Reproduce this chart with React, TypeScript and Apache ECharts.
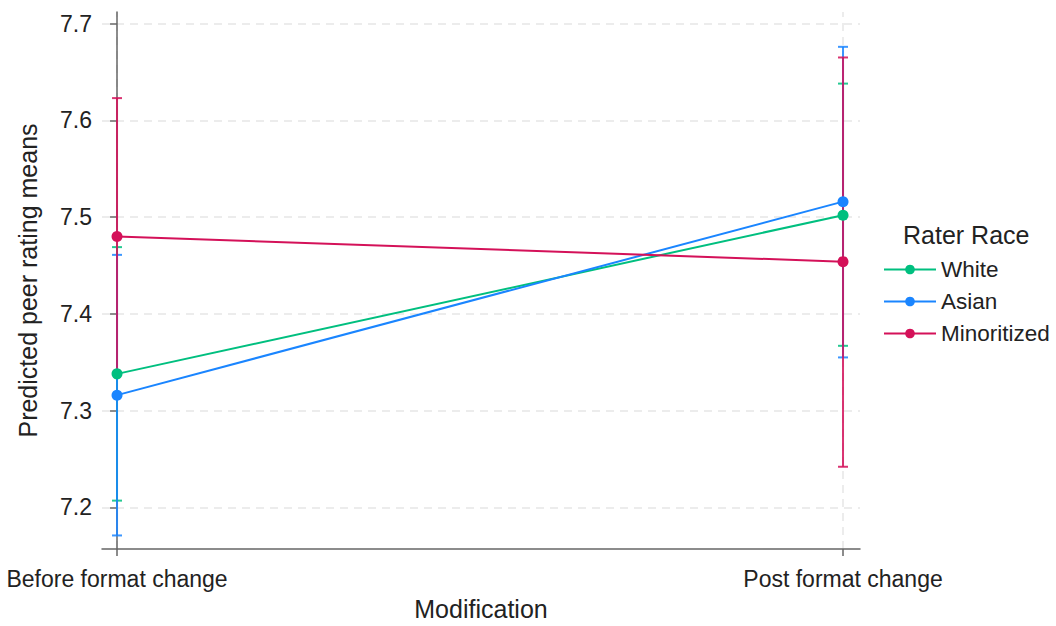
import React, { useEffect, useRef } from "react";
import * as echarts from "echarts";

const categories = ["Before format change", "Post format change"];
const seriesNames = ["White", "Asian", "Minoritized"];
const colors = ["#00bf7f", "#1a85ff", "#d41159"];
const whiteMean = [7.338, 7.502];
const whiteLo = [7.207, 7.367];
const whiteHi = [7.469, 7.638];
const asianMean = [7.316, 7.516];
const asianLo = [7.171, 7.355];
const asianHi = [7.461, 7.676];
const minorMean = [7.48, 7.454];
const minorLo = [7.337, 7.242];
const minorHi = [7.623, 7.665];
const yTicks = [7.2, 7.3, 7.4, 7.5, 7.6, 7.7];
const xTicks = [0, 1];

const FONT = "'Liberation Sans', Arial, sans-serif";

export default function App() {
  const ref = useRef<HTMLDivElement>(null);
  useEffect(() => {
    if (!ref.current) return;
    const chart = echarts.init(ref.current, undefined, { renderer: "svg" });
    const means = [whiteMean, asianMean, minorMean];
    const los = [whiteLo, asianLo, minorLo];
    const his = [whiteHi, asianHi, minorHi];

    const gridLineData = [
      ...yTicks.map((v) => ({ yAxis: v })),
      ...xTicks.map((v) => ({ xAxis: v })),
    ];

    const ciSeries = seriesNames.map((name, i) => ({
      type: "custom",
      name: name + " CI",
      z: 10 + i,
      data: xTicks.map((x, j) => [x, los[i][j], his[i][j]]),
      renderItem: (params: any, api: any) => {
        const x = api.value(0);
        const lo = api.value(1);
        const hi = api.value(2);
        const a = api.coord([x, lo]);
        const b = api.coord([x, hi]);
        const hw = 5;
        const style = { stroke: colors[i], lineWidth: 2, opacity: 0.85 };
        return {
          type: "group",
          children: [
            { type: "line", shape: { x1: a[0], y1: a[1], x2: b[0], y2: b[1] }, style },
            { type: "line", shape: { x1: a[0] - hw, y1: a[1], x2: a[0] + hw, y2: a[1] }, style },
            { type: "line", shape: { x1: b[0] - hw, y1: b[1], x2: b[0] + hw, y2: b[1] }, style },
          ],
        };
      },
    }));

    const lineSeries = seriesNames.map((name, i) => ({
      type: "line",
      name,
      z: 20 + i,
      data: xTicks.map((x, j) => [x, means[i][j]]),
      symbol: "circle",
      symbolSize: 11,
      showSymbol: true,
      lineStyle: { color: colors[i], width: 2 },
      itemStyle: { color: colors[i] },
    }));

    chart.setOption({
      animation: false,
      textStyle: { fontFamily: FONT },
      grid: { left: 102, right: 196, top: 12, bottom: 73, containLabel: false },
      xAxis: {
        type: "value",
        min: -0.0207,
        max: 1.0234,
        name: "Modification",
        nameLocation: "middle",
        nameGap: 47,
        nameTextStyle: { fontSize: 25, color: "#222", fontFamily: FONT },
        axisLine: { show: true, lineStyle: { color: "#666", width: 1.5 } },
        axisTick: { show: true, length: 7, customValues: xTicks, lineStyle: { color: "#666", width: 1.5 } },
        axisLabel: {
          customValues: xTicks,
          formatter: (v: number) => categories[Math.round(v)],
          fontSize: 23,
          color: "#222",
          margin: 18,
          fontFamily: FONT,
        },
        splitLine: { show: false },
      },
      yAxis: {
        type: "value",
        min: 7.157,
        max: 7.712,
        name: "Predicted peer rating means",
        nameLocation: "middle",
        nameGap: 62,
        nameTextStyle: { fontSize: 25, color: "#222", fontFamily: FONT },
        axisLine: { show: true, lineStyle: { color: "#666", width: 1.5 } },
        axisTick: { show: true, length: 7, customValues: yTicks, lineStyle: { color: "#666", width: 1.5 } },
        axisLabel: {
          customValues: yTicks,
          formatter: (v: number) => v.toFixed(1),
          fontSize: 23,
          color: "#222",
          margin: 10,
          fontFamily: FONT,
        },
        splitLine: { show: false },
      },
      legend: {
        orient: "vertical",
        left: 878,
        top: 253,
        data: seriesNames,
        itemWidth: 52,
        itemHeight: 12,
        itemGap: 9,
        textStyle: { fontSize: 22.5, color: "#222", fontFamily: FONT },
      },
      graphic: [
        {
          type: "text",
          left: 903,
          top: 222,
          style: { text: "Rater Race", fontSize: 25, fill: "#222", fontFamily: FONT },
        },
      ],
      series: [
        {
          type: "line",
          name: "grid",
          data: [],
          z: 0,
          silent: true,
          markLine: {
            silent: true,
            z: 0,
            symbol: ["none", "none"],
            label: { show: false },
            lineStyle: { color: "#e6e6e6", type: [8, 6], width: 1.5 },
            data: gridLineData,
          },
        },
        ...ciSeries,
        ...lineSeries,
      ],
    } as any);
    return () => chart.dispose();
  }, []);
  return (
    <div
      ref={ref}
      style={{ position: "fixed", left: 0, top: 0, width: 1056, height: 626, background: "#fff" }}
    />
  );
}
